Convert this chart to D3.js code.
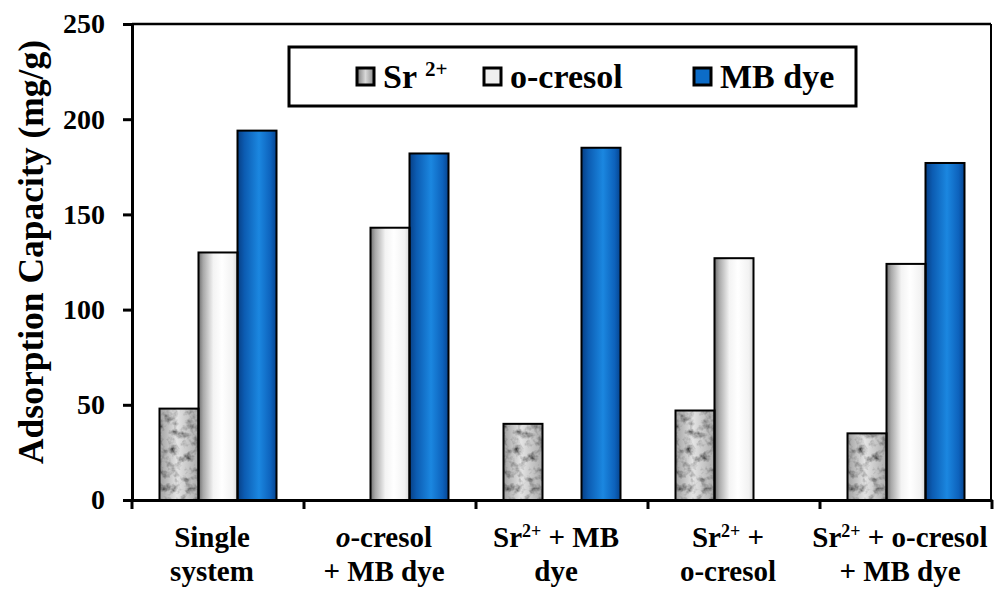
<!DOCTYPE html>
<html>
<head>
<meta charset="utf-8">
<script src="https://cdn.jsdelivr.net/npm/d3@7/dist/d3.min.js"></script>
</head>
<body style="margin:0;background:#fff">
<svg id="chart" width="996" height="594" font-family="Liberation Serif" font-weight="bold"></svg>
<script>
// Adsorption capacity (mg/g) in single and mixed systems
const categories = ["Single system", "o-cresol + MB dye", "Sr2+ + MB dye", "Sr2+ + o-cresol", "Sr2+ + o-cresol + MB dye"];
// Axis label lines; ^..^ marks superscript, _.._ marks italic
const categoryLabelLines = [
  ["Single", "system"],
  ["_o_-cresol", "+ MB dye"],
  ["Sr^2+^ + MB", "dye"],
  ["Sr^2+^ +", "o-cresol"],
  ["Sr^2+^ + o-cresol", "+ MB dye"]
];
const seriesNames = ["Sr2+", "o-cresol", "MB dye"];
const legendLabels = ["Sr ^2+^", "o-cresol", "MB dye"];
const srValues = [48, 0, 40, 47, 35];
const cresolValues = [130, 143, 0, 127, 124];
const mbValues = [194, 182, 185, 0, 177];
const yTicks = [0, 50, 100, 150, 200, 250];
const yTitle = "Adsorption Capacity (mg/g)";

const seriesValues = [srValues, cresolValues, mbValues];
const rows = categories.map((c, i) => ({
  category: c,
  values: seriesNames.map((s, k) => ({ series: s, value: seriesValues[k][i] }))
}));

const W = 996, H = 594;
const FONT = "Liberation Serif";
const margin = { top: 24, right: 4, bottom: 94, left: 132 };
const svg = d3.select("#chart");
const defs = svg.append("defs");

// granite texture for the Sr2+ bars
const granite = defs.append("filter").attr("id", "granite")
  .attr("x", 0).attr("y", 0).attr("width", 1).attr("height", 1);
granite.append("feTurbulence").attr("type", "fractalNoise")
  .attr("baseFrequency", "0.13").attr("numOctaves", 3).attr("seed", 7).attr("result", "noise");
granite.append("feColorMatrix").attr("in", "noise").attr("type", "matrix")
  .attr("values", "1.9 0 0 0 -0.1  1.9 0 0 0 -0.1  1.9 0 0 0 -0.1  0 0 0 0 1")
  .attr("result", "grayNoise");
granite.append("feBlend").attr("in", "SourceGraphic").attr("in2", "grayNoise").attr("mode", "multiply").attr("result", "mix");
granite.append("feComposite").attr("in", "mix").attr("in2", "SourceGraphic").attr("operator", "in");

function hGradient(id, stops) {
  const g = defs.append("linearGradient").attr("id", id)
    .attr("x1", "0%").attr("x2", "100%").attr("y1", "0%").attr("y2", "0%");
  stops.forEach(([o, c]) => g.append("stop").attr("offset", o).attr("stop-color", c));
}
hGradient("srFill", [["0%", "#a0a0a0"], ["45%", "#e4e4e4"], ["100%", "#ababab"]]);
hGradient("cresolFill", [["0%", "#6e6e6e"], ["12%", "#a8a8a8"], ["38%", "#f3f3f3"], ["60%", "#ffffff"], ["88%", "#f2f2f2"], ["100%", "#d6d6d6"]]);
hGradient("mbFill", [["0%", "#073f85"], ["18%", "#0c5cb2"], ["55%", "#1b87e0"], ["85%", "#0d62bc"], ["100%", "#06448f"]]);
hGradient("srKey", [["0%", "#7a7a7a"], ["50%", "#d8d8d8"], ["100%", "#8a8a8a"]]);
const fills = { "Sr2+": "url(#srFill)", "o-cresol": "url(#cresolFill)", "MB dye": "url(#mbFill)" };

const x0 = d3.scaleBand().domain(categories).range([margin.left, W - margin.right]).paddingInner(0).paddingOuter(0);
const x1 = d3.scaleBand().domain(seriesNames).range([0, x0.bandwidth()]).paddingInner(0).paddingOuter(0.705);
const y = d3.scaleLinear().domain([0, 250]).range([H - margin.bottom, margin.top]);

// plot frame (top and right)
const xL = margin.left, xR = W - margin.right - 1;
svg.append("line").attr("x1", xL).attr("x2", xR).attr("y1", y(250)).attr("y2", y(250))
  .attr("stroke", "#000").attr("stroke-width", 2.5);
svg.append("line").attr("x1", xR).attr("x2", xR).attr("y1", y(250)).attr("y2", y(0))
  .attr("stroke", "#000").attr("stroke-width", 2);

// bars
const groups = svg.append("g").selectAll("g").data(rows).join("g")
  .attr("transform", d => `translate(${x0(d.category)},0)`);
groups.selectAll("rect").data(d => d.values.filter(v => v.value > 0)).join("rect")
  .attr("x", d => x1(d.series))
  .attr("y", d => y(d.value))
  .attr("width", x1.bandwidth())
  .attr("height", d => y(0) - y(d.value))
  .attr("fill", d => fills[d.series])
  .attr("filter", d => d.series === "Sr2+" ? "url(#granite)" : null);
groups.selectAll("rect.outline").data(d => d.values.filter(v => v.value > 0)).join("rect")
  .attr("class", "outline")
  .attr("x", d => x1(d.series))
  .attr("y", d => y(d.value))
  .attr("width", x1.bandwidth())
  .attr("height", d => y(0) - y(d.value))
  .attr("fill", "none").attr("stroke", "#000").attr("stroke-width", 2);

// y axis
const yAxis = svg.append("g").attr("transform", `translate(${margin.left},0)`)
  .call(d3.axisLeft(y).tickValues(yTicks).tickSize(9).tickPadding(18).tickSizeOuter(0));
yAxis.attr("font-family", FONT).attr("font-size", 28);
yAxis.select(".domain").attr("stroke-width", 3);
yAxis.selectAll(".tick line").attr("stroke-width", 3);
yAxis.selectAll(".tick text").attr("font-family", FONT).attr("font-weight", "bold").attr("font-size", 28).attr("fill", "#000");

// x axis with ticks on category boundaries
const xAxis = svg.append("g").attr("transform", `translate(0,${y(0)})`)
  .call(d3.axisBottom(x0).tickSize(0).tickFormat("").tickSizeOuter(0));
xAxis.select(".domain").attr("stroke-width", 3);
const boundaries = categories.map(c => x0(c)).concat([x0(categories[categories.length - 1]) + x0.bandwidth()]);
xAxis.selectAll("line.bound").data(boundaries).join("line").attr("class", "bound")
  .attr("x1", d => d).attr("x2", d => d).attr("y1", 0).attr("y2", 9)
  .attr("stroke", "#000").attr("stroke-width", 3);

// rich text helper
function richText(sel, markup) {
  const parts = markup.split(/(\^[^^]*\^|_[^_]*_)/).filter(s => s.length);
  parts.forEach(p => {
    if (p[0] === "^") {
      sel.append("tspan").attr("baseline-shift", "super").attr("font-size", "0.62em").text(p.slice(1, -1));
    } else if (p[0] === "_") {
      sel.append("tspan").attr("font-style", "italic").text(p.slice(1, -1));
    } else {
      sel.append("tspan").text(p);
    }
  });
}

// category labels
const labelG = svg.append("g").attr("font-size", 29).attr("text-anchor", "middle");
categories.forEach((c, i) => {
  categoryLabelLines[i].forEach((line, j) => {
    const t = labelG.append("text")
      .attr("font-family", FONT).attr("font-weight", "bold")
      .attr("x", x0(c) + x0.bandwidth() / 2 - 6)
      .attr("y", 547 + j * 34);
    richText(t, line);
  });
});

// y title
svg.append("text")
  .attr("transform", `translate(43,${(y(0) + y(250)) / 2 - 10}) rotate(-90)`)
  .attr("font-family", FONT).attr("font-weight", "bold")
  .attr("text-anchor", "middle").attr("font-size", 35.5)
  .text(yTitle);

// legend
const legend = svg.append("g");
legend.append("rect").attr("x", 289).attr("y", 47).attr("width", 567).attr("height", 59)
  .attr("fill", "#fff").attr("stroke", "#000").attr("stroke-width", 3);
const legendX = [357, 484, 694];
const legendFills = ["url(#srKey)", "#efefef", "#0c6cc8"];
seriesNames.forEach((s, i) => {
  legend.append("rect").attr("x", legendX[i]).attr("y", 68).attr("width", 17).attr("height", 17)
    .attr("fill", legendFills[i]).attr("stroke", "#000").attr("stroke-width", 3);
  const t = legend.append("text").attr("x", legendX[i] + 26).attr("y", 88)
    .attr("font-family", FONT).attr("font-weight", "bold").attr("font-size", 34);
  richText(t, legendLabels[i]);
});
</script>
</body>
</html>
